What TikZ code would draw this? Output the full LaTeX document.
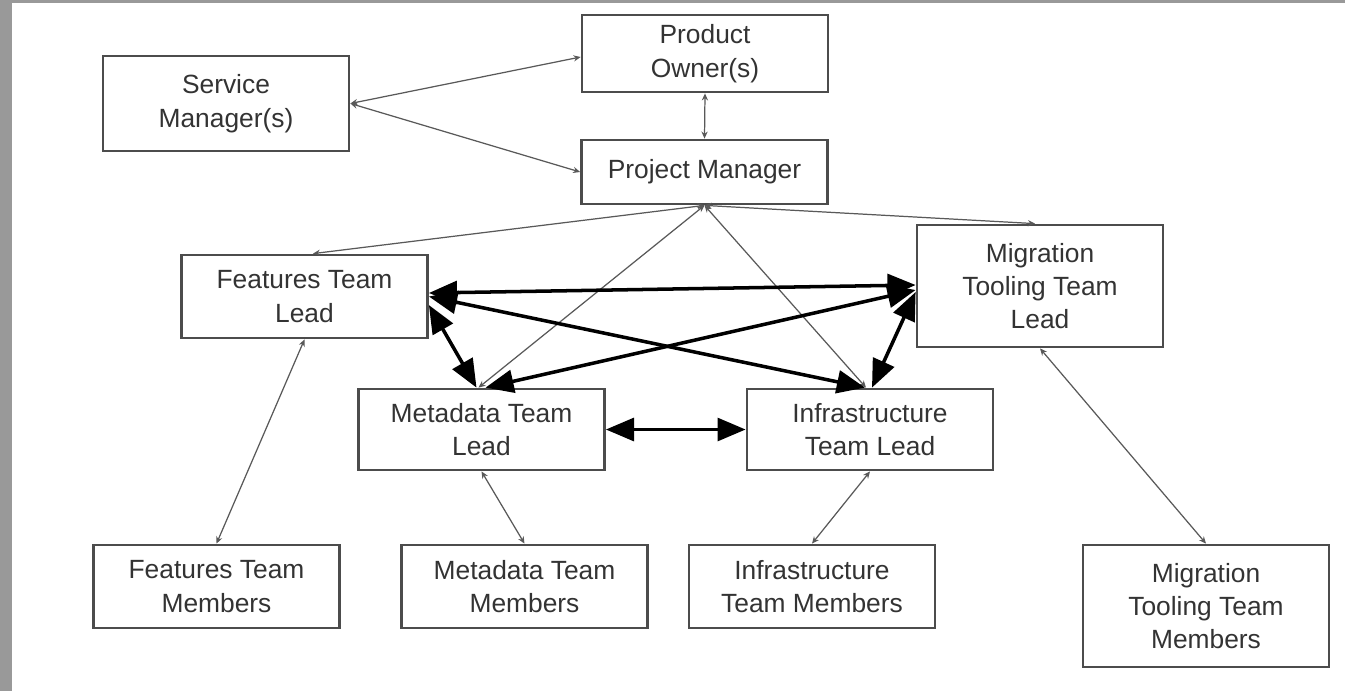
\documentclass[tikz,border=0pt]{standalone}
\usepackage{fontspec}
\setmainfont{Liberation Sans}
\usetikzlibrary{arrows.meta}

\begin{document}
\begin{tikzpicture}[
            x=0.02cm, y=-0.02cm,
            box/.style={draw=black!70, line width=1.6pt, fill=white, text=black!80,
                align=center, inner sep=0pt, minimum width=4.92cm,
                font=\fontsize{15}{19}\selectfont},
            link/.style={draw=black!65, line width=0.7pt,
                {Stealth[length=4pt,width=3.5pt]}-{Stealth[length=4pt,width=3.5pt]}},
            strong/.style={draw=black, line width=2pt,
                {Triangle[length=16pt,width=13pt]}-{Triangle[length=16pt,width=13pt]}},
            ]
            % frame
            \fill[black!40] (0,0) rectangle (1345,691);
            \fill[white] (12,3) rectangle (1345,691);
            \useasboundingbox (0,0) rectangle (1345,691);

            % management
            \node[box, minimum height=1.9cm] (sm) at (226,103.5) {Service\\Manager(s)};
            \node[box, minimum height=1.54cm] (po) at (705,53.5) {Product\\Owner(s)};
            \node[box, minimum height=1.28cm] (pm) at (704.5,172) {Project Manager};

            % leads
            \node[box, minimum height=1.66cm] (ftl) at (304.5,296.5) {Features Team\\Lead};
            \node[box, minimum height=2.44cm] (mgl) at (1040,286) {Migration\\Tooling Team\\Lead};
            \node[box, minimum height=1.62cm] (mdl) at (481.5,429.5) {Metadata Team\\Lead};
            \node[box, minimum height=1.62cm] (itl) at (870,429.5) {Infrastructure\\Team Lead};

            % members
            \node[box, minimum height=1.66cm] (ftm) at (216.5,586.5) {Features Team\\Members};
            \node[box, minimum height=1.66cm] (mdm) at (524.5,586.5) {Metadata Team\\Members};
            \node[box, minimum height=1.66cm] (itm) at (812,586.5) {Infrastructure\\Team Members};
            \node[box, minimum height=2.44cm] (mgm) at (1206,606) {Migration\\Tooling Team\\Members};

            \draw[link] (sm.east) -- ([yshift=-0.07cm]po.west);
            \draw[link] (sm.east) -- (pm.west);
            \draw[link] (po.south) -- (pm.north);
            \draw[link] (pm.south) -- ([xshift=0.17cm]ftl.north);
            \draw[link] (pm.south) -- ([xshift=-0.1cm]mgl.north);
            \draw[link] (pm.south) -- ([xshift=-0.06cm]mdl.north);
            \draw[link] (pm.south) -- ([xshift=-0.08cm]itl.north);
            \draw[link] (ftl.south) -- (ftm.north);
            \draw[link] (mdl.south) -- (mdm.north);
            \draw[link] (itl.south) -- (itm.north);
            \draw[link] (mgl.south) -- (mgm.north);

            \draw[strong] ([yshift=0.07cm]ftl.east) -- ([yshift=0.02cm]mgl.west);
            \draw[strong] (ftl.east) -- ([xshift=-0.1cm]itl.north);
            \draw[strong] ([yshift=-0.17cm]ftl.east) -- ([xshift=-0.1cm]mdl.north);
            \draw[strong] ([xshift=0.08cm]mdl.north) -- ([yshift=-0.08cm]mgl.west);
            \draw[strong] ([xshift=0.04cm]itl.north) -- ([yshift=-0.12cm]mgl.west);
            \draw[strong] (mdl.east) -- (itl.west);
        \end{tikzpicture}
\end{document}
